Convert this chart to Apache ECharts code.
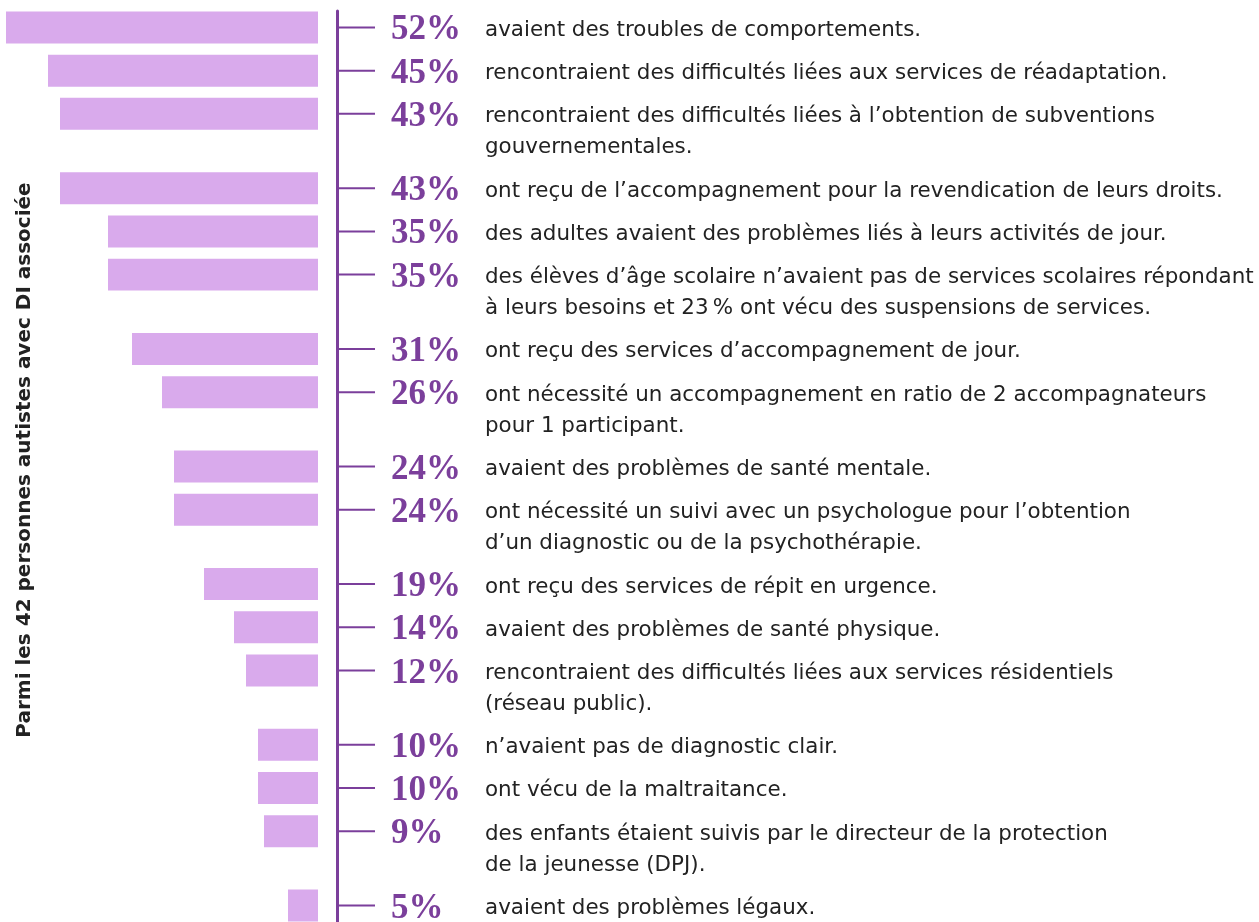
<!DOCTYPE html>
<html>
<head>
<meta charset="utf-8">
<script src="https://cdn.jsdelivr.net/npm/echarts@6/dist/echarts.min.js"></script>
<style>
  html, body { margin: 0; padding: 0; background: #fff; }
  #chart { width: 1259px; height: 922px; }
</style>
</head>
<body>
<div id="chart"></div>
<script>
// data
const values = [52, 45, 43, 43, 35, 35, 31, 26, 24, 24, 19, 14, 12, 10, 10, 9, 5];
const descriptions = [
  'avaient des troubles de comportements.',
  'rencontraient des difficultés liées aux services de réadaptation.',
  'rencontraient des difficultés liées à l’obtention de subventions\ngouvernementales.',
  'ont reçu de l’accompagnement pour la revendication de leurs droits.',
  'des adultes avaient des problèmes liés à leurs activités de jour.',
  'des élèves d’âge scolaire n’avaient pas de services scolaires répondant\nà leurs besoins et 23\u202f% ont vécu des suspensions de services.',
  'ont reçu des services d’accompagnement de jour.',
  'ont nécessité un accompagnement en ratio de 2 accompagnateurs\npour 1 participant.',
  'avaient des problèmes de santé mentale.',
  'ont nécessité un suivi avec un psychologue pour l’obtention\nd’un diagnostic ou de la psychothérapie.',
  'ont reçu des services de répit en urgence.',
  'avaient des problèmes de santé physique.',
  'rencontraient des difficultés liées aux services résidentiels\n(réseau public).',
  'n’avaient pas de diagnostic clair.',
  'ont vécu de la maltraitance.',
  'des enfants étaient suivis par le directeur de la protection\nde la jeunesse (DPJ).',
  'avaient des problèmes légaux.'
];
const axisTitle = 'Parmi les 42 personnes autistes avec DI associée';

// row layout: a wrapped description pushes the next row down
const EXTRA_LINE = 0.72;
const positions = [];
descriptions.forEach((d, i) => {
  if (i === 0) { positions.push(0); return; }
  const prevLines = descriptions[i - 1].split('\n').length;
  positions.push(positions[i - 1] + 1 + EXTRA_LINE * (prevLines - 1));
});
const lastPos = positions[positions.length - 1];

const PURPLE = '#7B3F9B';
const BAR = '#D9AAEC';
const TEXT = '#222222';

const chart = echarts.init(document.getElementById('chart'));

chart.setOption({
  animation: false,
  grid: { left: 6, right: 941, top: 11, bottom: 0 },
  xAxis: {
    type: 'value',
    min: 0,
    max: 52,
    inverse: true,
    show: false
  },
  yAxis: {
    type: 'value',
    inverse: true,
    min: -0.38,
    max: lastPos + 0.38,
    position: 'right',
    offset: 19,
    axisLine: { show: true, onZero: false, lineStyle: { color: PURPLE, width: 3 } },
    axisTick: { show: false },
    axisLabel: { show: false },
    splitLine: { show: false }
  },
  graphic: [{
    type: 'text',
    x: 25,
    y: 460,
    rotation: Math.PI / 2,
    style: {
      text: axisTitle,
      fill: TEXT,
      font: 'bold 20px "DejaVu Sans", sans-serif',
      align: 'center',
      verticalAlign: 'middle'
    }
  }],
  series: [{
    type: 'custom',
    clip: false,
    encode: { x: 0, y: 1 },
    data: values.map((v, i) => [v, positions[i], i]),
    renderItem(params, api) {
      const idx = api.value(2);
      const start = api.coord([api.value(0), api.value(1)]);
      const end = api.coord([0, api.value(1)]);
      const h = api.size([0, 0.74])[1];
      const axisX = end[0] + 19;
      const cy = end[1];
      return {
        type: 'group',
        children: [
          {
            type: 'rect',
            shape: { x: start[0], y: cy - h / 2, width: end[0] - start[0], height: h },
            style: { fill: BAR }
          },
          {
            type: 'line',
            shape: { x1: axisX, y1: cy, x2: axisX + 38, y2: cy },
            style: { stroke: PURPLE, lineWidth: 2 }
          },
          {
            type: 'text',
            x: axisX + 54,
            y: cy + 3,
            style: {
              text: values[idx] + '%',
              fill: PURPLE,
              font: 'bold 35px "Liberation Serif", serif',
              align: 'left',
              verticalAlign: 'middle'
            }
          },
          {
            type: 'text',
            x: axisX + 148,
            y: cy + 3 - 15.5,
            scaleX: 1.02,
            style: {
              text: descriptions[idx],
              fill: TEXT,
              font: '21px "DejaVu Sans", sans-serif',
              lineHeight: 31,
              align: 'left',
              verticalAlign: 'top'
            }
          }
        ]
      };
    }
  }]
});
</script>
</body>
</html>
